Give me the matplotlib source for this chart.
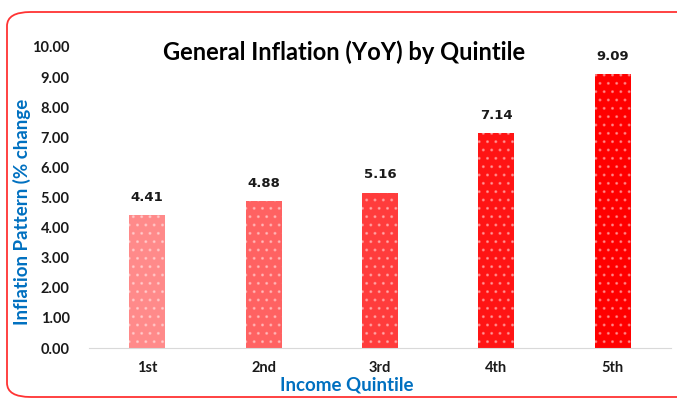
import matplotlib
matplotlib.use('Agg')
from matplotlib import pyplot as plt
from matplotlib.patches import FancyBboxPatch
import numpy as np

quintiles = ['1st', '2nd', '3rd', '4th', '5th']
inflation = [4.41, 4.88, 5.16, 7.14, 9.09]
yticks = [0, 1, 2, 3, 4, 5, 6, 7, 8, 9, 10]
bar_colors = ['#ff8a8a', '#ff6262', '#ff3c3c', '#ff1414', '#ff0000']

plt.rcParams['font.family'] = ['Lato', 'DejaVu Sans']

fig = plt.figure(figsize=(6.77, 4.01), dpi=100)
ax = fig.add_axes([89 / 677, 1 - 348 / 401, 582 / 677, 301 / 401])

x = np.arange(len(quintiles))
bars = ax.bar(x, inflation, width=0.31, color=bar_colors, linewidth=0, hatch='..')
for b in bars:
    b.set_edgecolor((1, 1, 1, 0.35))

# value labels
for xi, v in zip(x, inflation):
    ax.text(xi, v + 0.38, f'{v:.2f}', ha='center', va='bottom',
            fontsize=9.5, fontweight='bold', color='#1a1a1a', family='DejaVu Sans')

ax.set_xlim(-0.5, len(quintiles) - 0.5)
ax.set_ylim(0, 10)
ax.set_yticks(yticks)
ax.set_yticklabels([f'{t:.2f}' for t in yticks], fontsize=10.5, fontweight='bold')
ax.set_xticks(x)
ax.set_xticklabels(quintiles, fontsize=10.5, fontweight='bold')
ax.tick_params(axis='both', length=0, colors='#1a1a1a')
ax.tick_params(axis='y', pad=14)
ax.tick_params(axis='x', pad=9)
for s in ['top', 'right', 'left']:
    ax.spines[s].set_visible(False)
ax.spines['bottom'].set_color('#d9d9d9')

fig.text(347 / 677, 1 - 385 / 401, 'Income Quintile', ha='center', va='center',
         fontsize=13.5, fontweight='bold', color='#0070c0')
fig.text(22 / 677, 1 - 212 / 401, 'Inflation Pattern (% change', rotation=90,
         ha='center', va='center', fontsize=13.5, fontweight='bold', color='#0070c0')
fig.text(344 / 677, 1 - 52 / 401, 'General Inflation (YoY) by Quintile',
         ha='center', va='center', fontsize=17, fontweight='bold', color='black')

border = FancyBboxPatch((7 / 677, 4 / 401), 700 / 677, 385 / 401,
                        boxstyle='round,pad=0,rounding_size=0.035',
                        transform=fig.transFigure, facecolor='none',
                        edgecolor='#ff3333', linewidth=1.3, clip_on=False)
fig.patches.append(border)

fig.savefig('out.png', dpi=100)
